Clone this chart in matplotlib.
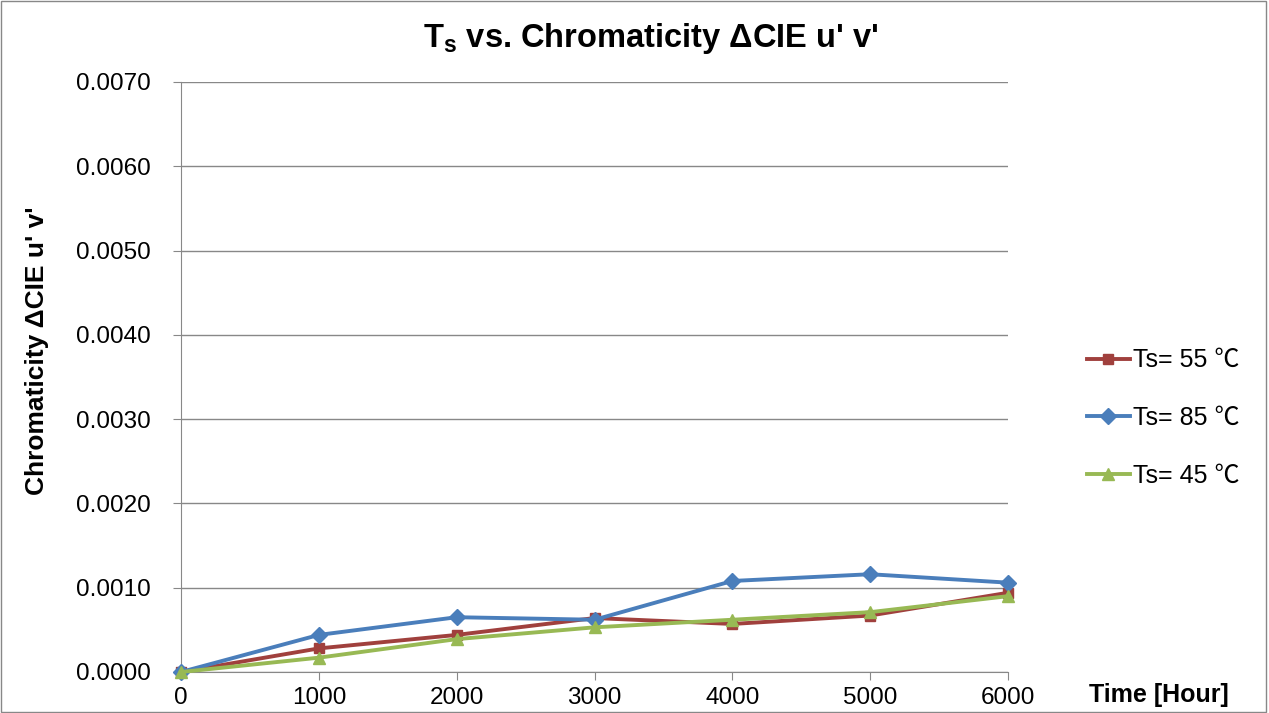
import numpy as np
import matplotlib.pyplot as plt

plt.rcParams['font.family'] = ['Liberation Sans', 'Noto Sans CJK TC', 'DejaVu Sans']
plt.rcParams['mathtext.fontset'] = 'custom'
plt.rcParams['mathtext.bf'] = 'Liberation Sans:bold'
plt.rcParams['mathtext.rm'] = 'Liberation Sans'

# data
hours = [0, 1000, 2000, 3000, 4000, 5000, 6000]
ts55 = [0.0, 0.00028, 0.00044, 0.00064, 0.00057, 0.00067, 0.00094]
ts85 = [0.0, 0.00044, 0.00065, 0.00062, 0.00108, 0.00116, 0.00106]
ts45 = [0.0, 0.00017, 0.00039, 0.00053, 0.00062, 0.00071, 0.00090]
labels = ['Ts= 55 ℃', 'Ts= 85 ℃', 'Ts= 45 ℃']
colors = ['#A0403D', '#4A7EBB', '#98B954']
markers = ['s', 'D', '^']
yticks = [0.0, 0.001, 0.002, 0.003, 0.004, 0.005, 0.006, 0.007]

fig = plt.figure(figsize=(12.69, 7.13), dpi=100)
ax = fig.add_axes([181/1269, 1 - 672/713, (1008-181)/1269, (672-82)/713])

for yv, lab, c, m in zip([ts55, ts85, ts45], labels, colors, markers):
    ax.plot(hours, yv, color=c, lw=2.8, marker=m, ms=8 if m != 's' else 7,
            label=lab, zorder=3, clip_on=False)

ax.set_xlim(0, 6000)
ax.set_ylim(0, 0.007)
ax.set_xticks(hours)
ax.set_yticks(yticks)
ax.set_yticklabels(['%.4f' % v for v in yticks])
ax.grid(axis='y', color='#888888', lw=1)
ax.set_axisbelow(True)
for s in ['top', 'right']:
    ax.spines[s].set_visible(False)
for s in ['left', 'bottom']:
    ax.spines[s].set_color('#888888')
ax.tick_params(axis='both', colors='#888888', labelcolor='black', labelsize=17.5, length=6)
ax.tick_params(axis='x', pad=5)
ax.tick_params(axis='y', pad=16)

fig.text(651/1269, 1 - 38/713, "$\\mathbf{T_s}$ vs. Chromaticity ΔCIE u' v'",
         ha='center', va='center', fontsize=23.5, fontweight='bold')
fig.text(37/1269, 1 - 351/713, "Chromaticity ΔCIE u' v'", rotation=90,
         ha='center', va='center', fontsize=19, fontweight='bold')
fig.text(1159/1269, 1 - 695/713, 'Time [Hour]', ha='center', va='center',
         fontsize=18, fontweight='bold')

ax.legend(loc='center left', bbox_to_anchor=(1064/1269, 1 - 418/713),
          bbox_transform=fig.transFigure, frameon=False, fontsize=18,
          handlelength=1.75, handletextpad=0.1, labelspacing=1.35)

fig.patches.append(plt.Rectangle((0.001, 0.001), 0.997, 0.997, transform=fig.transFigure,
                                 fill=False, edgecolor='#888888', lw=1))
fig.savefig('out.png', dpi=100)
